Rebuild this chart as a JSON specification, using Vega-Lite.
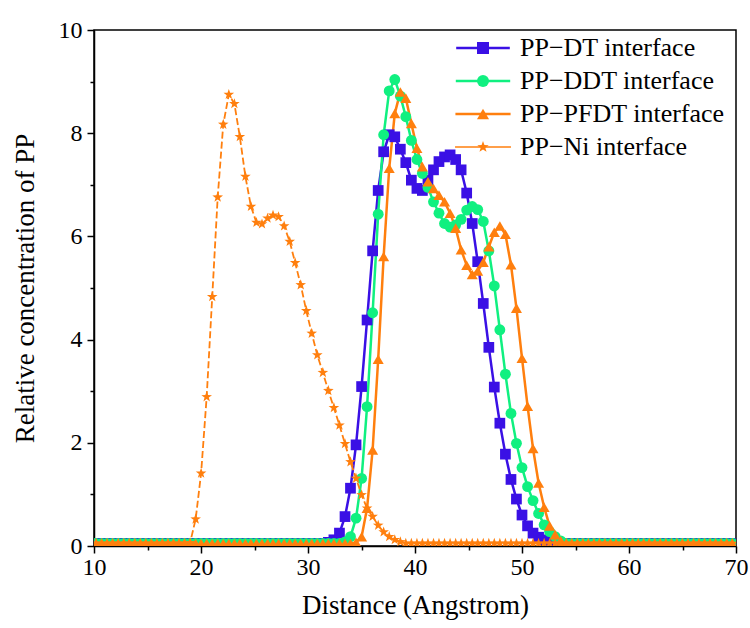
{
"$schema": "https://vega.github.io/schema/vega-lite/v6.json",
"width": 642, "height": 516,
"autosize": {"type": "none"},
"padding": {"left": 94, "top": 30, "right": 14, "bottom": 82},
"background": "white",
"config": {"view": {"stroke": "black", "strokeWidth": 1.5}, "font": "Liberation Serif"},
"data": {"values": [
{"s":"DT","x":10.19,"y":0.05},{"s":"DT","x":10.71,"y":0.05},{"s":"DT","x":11.22,"y":0.05},{"s":"DT","x":11.74,"y":0.05},{"s":"DT","x":12.26,"y":0.05},{"s":"DT","x":12.78,"y":0.05},{"s":"DT","x":13.29,"y":0.05},{"s":"DT","x":13.81,"y":0.05},{"s":"DT","x":14.33,"y":0.05},{"s":"DT","x":14.84,"y":0.05},{"s":"DT","x":15.36,"y":0.05},{"s":"DT","x":15.88,"y":0.05},{"s":"DT","x":16.39,"y":0.05},{"s":"DT","x":16.91,"y":0.05},{"s":"DT","x":17.43,"y":0.05},{"s":"DT","x":17.95,"y":0.05},{"s":"DT","x":18.46,"y":0.05},{"s":"DT","x":18.98,"y":0.05},{"s":"DT","x":19.50,"y":0.05},{"s":"DT","x":20.01,"y":0.05},{"s":"DT","x":20.53,"y":0.05},{"s":"DT","x":21.05,"y":0.05},{"s":"DT","x":21.56,"y":0.05},{"s":"DT","x":22.08,"y":0.05},{"s":"DT","x":22.60,"y":0.05},{"s":"DT","x":23.12,"y":0.05},{"s":"DT","x":23.63,"y":0.05},{"s":"DT","x":24.15,"y":0.05},{"s":"DT","x":24.67,"y":0.05},{"s":"DT","x":25.18,"y":0.05},{"s":"DT","x":25.70,"y":0.05},{"s":"DT","x":26.22,"y":0.05},{"s":"DT","x":26.73,"y":0.05},{"s":"DT","x":27.25,"y":0.05},{"s":"DT","x":27.77,"y":0.05},{"s":"DT","x":28.29,"y":0.05},{"s":"DT","x":28.80,"y":0.05},{"s":"DT","x":29.32,"y":0.05},{"s":"DT","x":29.84,"y":0.05},{"s":"DT","x":30.35,"y":0.05},{"s":"DT","x":30.87,"y":0.05},{"s":"DT","x":31.39,"y":0.05},{"s":"DT","x":31.90,"y":0.07},{"s":"DT","x":32.42,"y":0.12},{"s":"DT","x":32.94,"y":0.25},{"s":"DT","x":33.46,"y":0.57},{"s":"DT","x":33.97,"y":1.12},{"s":"DT","x":34.49,"y":1.96},{"s":"DT","x":35.01,"y":3.09},{"s":"DT","x":35.52,"y":4.38},{"s":"DT","x":36.04,"y":5.72},{"s":"DT","x":36.56,"y":6.89},{"s":"DT","x":37.07,"y":7.64},{"s":"DT","x":37.59,"y":7.97},{"s":"DT","x":38.11,"y":7.93},{"s":"DT","x":38.63,"y":7.69},{"s":"DT","x":39.14,"y":7.43},{"s":"DT","x":39.66,"y":7.09},{"s":"DT","x":40.18,"y":6.93},{"s":"DT","x":40.69,"y":6.89},{"s":"DT","x":41.21,"y":7.09},{"s":"DT","x":41.73,"y":7.29},{"s":"DT","x":42.24,"y":7.45},{"s":"DT","x":42.76,"y":7.54},{"s":"DT","x":43.28,"y":7.58},{"s":"DT","x":43.80,"y":7.49},{"s":"DT","x":44.31,"y":7.29},{"s":"DT","x":44.83,"y":6.84},{"s":"DT","x":45.35,"y":6.25},{"s":"DT","x":45.86,"y":5.51},{"s":"DT","x":46.38,"y":4.70},{"s":"DT","x":46.90,"y":3.85},{"s":"DT","x":47.41,"y":3.08},{"s":"DT","x":47.93,"y":2.38},{"s":"DT","x":48.45,"y":1.78},{"s":"DT","x":48.97,"y":1.29},{"s":"DT","x":49.48,"y":0.91},{"s":"DT","x":50.00,"y":0.60},{"s":"DT","x":50.52,"y":0.39},{"s":"DT","x":51.03,"y":0.25},{"s":"DT","x":51.55,"y":0.17},{"s":"DT","x":52.07,"y":0.12},{"s":"DT","x":52.58,"y":0.08},{"s":"DT","x":53.10,"y":0.05},{"s":"DT","x":53.62,"y":0.05},{"s":"DT","x":54.14,"y":0.05},{"s":"DT","x":54.65,"y":0.05},{"s":"DT","x":55.17,"y":0.05},{"s":"DT","x":55.69,"y":0.05},{"s":"DT","x":56.20,"y":0.05},{"s":"DT","x":56.72,"y":0.05},{"s":"DT","x":57.24,"y":0.05},{"s":"DT","x":57.75,"y":0.05},{"s":"DT","x":58.27,"y":0.05},{"s":"DT","x":58.79,"y":0.05},{"s":"DT","x":59.31,"y":0.05},{"s":"DT","x":59.82,"y":0.05},{"s":"DT","x":60.34,"y":0.05},{"s":"DT","x":60.86,"y":0.05},{"s":"DT","x":61.37,"y":0.05},{"s":"DT","x":61.89,"y":0.05},{"s":"DT","x":62.41,"y":0.05},{"s":"DT","x":62.92,"y":0.05},{"s":"DT","x":63.44,"y":0.05},{"s":"DT","x":63.96,"y":0.05},{"s":"DT","x":64.48,"y":0.05},{"s":"DT","x":64.99,"y":0.05},{"s":"DT","x":65.51,"y":0.05},{"s":"DT","x":66.03,"y":0.05},{"s":"DT","x":66.54,"y":0.05},{"s":"DT","x":67.06,"y":0.05},{"s":"DT","x":67.58,"y":0.05},{"s":"DT","x":68.09,"y":0.05},{"s":"DT","x":68.61,"y":0.05},{"s":"DT","x":69.13,"y":0.05},{"s":"DT","x":69.65,"y":0.05},
{"s":"DDT","x":10.19,"y":0.05},{"s":"DDT","x":10.71,"y":0.05},{"s":"DDT","x":11.22,"y":0.05},{"s":"DDT","x":11.74,"y":0.05},{"s":"DDT","x":12.26,"y":0.05},{"s":"DDT","x":12.78,"y":0.05},{"s":"DDT","x":13.29,"y":0.05},{"s":"DDT","x":13.81,"y":0.05},{"s":"DDT","x":14.33,"y":0.05},{"s":"DDT","x":14.84,"y":0.05},{"s":"DDT","x":15.36,"y":0.05},{"s":"DDT","x":15.88,"y":0.05},{"s":"DDT","x":16.39,"y":0.05},{"s":"DDT","x":16.91,"y":0.05},{"s":"DDT","x":17.43,"y":0.05},{"s":"DDT","x":17.95,"y":0.05},{"s":"DDT","x":18.46,"y":0.05},{"s":"DDT","x":18.98,"y":0.05},{"s":"DDT","x":19.50,"y":0.05},{"s":"DDT","x":20.01,"y":0.05},{"s":"DDT","x":20.53,"y":0.05},{"s":"DDT","x":21.05,"y":0.05},{"s":"DDT","x":21.56,"y":0.05},{"s":"DDT","x":22.08,"y":0.05},{"s":"DDT","x":22.60,"y":0.05},{"s":"DDT","x":23.12,"y":0.05},{"s":"DDT","x":23.63,"y":0.05},{"s":"DDT","x":24.15,"y":0.05},{"s":"DDT","x":24.67,"y":0.05},{"s":"DDT","x":25.18,"y":0.05},{"s":"DDT","x":25.70,"y":0.05},{"s":"DDT","x":26.22,"y":0.05},{"s":"DDT","x":26.73,"y":0.05},{"s":"DDT","x":27.25,"y":0.05},{"s":"DDT","x":27.77,"y":0.05},{"s":"DDT","x":28.29,"y":0.05},{"s":"DDT","x":28.80,"y":0.05},{"s":"DDT","x":29.32,"y":0.05},{"s":"DDT","x":29.84,"y":0.05},{"s":"DDT","x":30.35,"y":0.05},{"s":"DDT","x":30.87,"y":0.05},{"s":"DDT","x":31.39,"y":0.05},{"s":"DDT","x":31.90,"y":0.05},{"s":"DDT","x":32.42,"y":0.05},{"s":"DDT","x":32.94,"y":0.05},{"s":"DDT","x":33.46,"y":0.08},{"s":"DDT","x":33.97,"y":0.18},{"s":"DDT","x":34.49,"y":0.54},{"s":"DDT","x":35.01,"y":1.31},{"s":"DDT","x":35.52,"y":2.70},{"s":"DDT","x":36.04,"y":4.52},{"s":"DDT","x":36.56,"y":6.43},{"s":"DDT","x":37.07,"y":7.97},{"s":"DDT","x":37.59,"y":8.82},{"s":"DDT","x":38.11,"y":9.04},{"s":"DDT","x":38.63,"y":8.72},{"s":"DDT","x":39.14,"y":8.32},{"s":"DDT","x":39.66,"y":7.86},{"s":"DDT","x":40.18,"y":7.49},{"s":"DDT","x":40.69,"y":7.22},{"s":"DDT","x":41.21,"y":6.95},{"s":"DDT","x":41.73,"y":6.67},{"s":"DDT","x":42.24,"y":6.45},{"s":"DDT","x":42.76,"y":6.25},{"s":"DDT","x":43.28,"y":6.18},{"s":"DDT","x":43.80,"y":6.22},{"s":"DDT","x":44.31,"y":6.33},{"s":"DDT","x":44.83,"y":6.51},{"s":"DDT","x":45.35,"y":6.58},{"s":"DDT","x":45.86,"y":6.52},{"s":"DDT","x":46.38,"y":6.29},{"s":"DDT","x":46.90,"y":5.72},{"s":"DDT","x":47.41,"y":5.04},{"s":"DDT","x":47.93,"y":4.19},{"s":"DDT","x":48.45,"y":3.33},{"s":"DDT","x":48.97,"y":2.57},{"s":"DDT","x":49.48,"y":1.99},{"s":"DDT","x":50.00,"y":1.52},{"s":"DDT","x":50.52,"y":1.15},{"s":"DDT","x":51.03,"y":0.88},{"s":"DDT","x":51.55,"y":0.63},{"s":"DDT","x":52.07,"y":0.41},{"s":"DDT","x":52.58,"y":0.28},{"s":"DDT","x":53.10,"y":0.18},{"s":"DDT","x":53.62,"y":0.10},{"s":"DDT","x":54.14,"y":0.05},{"s":"DDT","x":54.65,"y":0.05},{"s":"DDT","x":55.17,"y":0.05},{"s":"DDT","x":55.69,"y":0.05},{"s":"DDT","x":56.20,"y":0.05},{"s":"DDT","x":56.72,"y":0.05},{"s":"DDT","x":57.24,"y":0.05},{"s":"DDT","x":57.75,"y":0.05},{"s":"DDT","x":58.27,"y":0.05},{"s":"DDT","x":58.79,"y":0.05},{"s":"DDT","x":59.31,"y":0.05},{"s":"DDT","x":59.82,"y":0.05},{"s":"DDT","x":60.34,"y":0.05},{"s":"DDT","x":60.86,"y":0.05},{"s":"DDT","x":61.37,"y":0.05},{"s":"DDT","x":61.89,"y":0.05},{"s":"DDT","x":62.41,"y":0.05},{"s":"DDT","x":62.92,"y":0.05},{"s":"DDT","x":63.44,"y":0.05},{"s":"DDT","x":63.96,"y":0.05},{"s":"DDT","x":64.48,"y":0.05},{"s":"DDT","x":64.99,"y":0.05},{"s":"DDT","x":65.51,"y":0.05},{"s":"DDT","x":66.03,"y":0.05},{"s":"DDT","x":66.54,"y":0.05},{"s":"DDT","x":67.06,"y":0.05},{"s":"DDT","x":67.58,"y":0.05},{"s":"DDT","x":68.09,"y":0.05},{"s":"DDT","x":68.61,"y":0.05},{"s":"DDT","x":69.13,"y":0.05},{"s":"DDT","x":69.65,"y":0.05},
{"s":"PFDT","x":10.19,"y":0.05},{"s":"PFDT","x":10.71,"y":0.05},{"s":"PFDT","x":11.22,"y":0.05},{"s":"PFDT","x":11.74,"y":0.05},{"s":"PFDT","x":12.26,"y":0.05},{"s":"PFDT","x":12.78,"y":0.05},{"s":"PFDT","x":13.29,"y":0.05},{"s":"PFDT","x":13.81,"y":0.05},{"s":"PFDT","x":14.33,"y":0.05},{"s":"PFDT","x":14.84,"y":0.05},{"s":"PFDT","x":15.36,"y":0.05},{"s":"PFDT","x":15.88,"y":0.05},{"s":"PFDT","x":16.39,"y":0.05},{"s":"PFDT","x":16.91,"y":0.05},{"s":"PFDT","x":17.43,"y":0.05},{"s":"PFDT","x":17.95,"y":0.05},{"s":"PFDT","x":18.46,"y":0.05},{"s":"PFDT","x":18.98,"y":0.05},{"s":"PFDT","x":19.50,"y":0.05},{"s":"PFDT","x":20.01,"y":0.05},{"s":"PFDT","x":20.53,"y":0.05},{"s":"PFDT","x":21.05,"y":0.05},{"s":"PFDT","x":21.56,"y":0.05},{"s":"PFDT","x":22.08,"y":0.05},{"s":"PFDT","x":22.60,"y":0.05},{"s":"PFDT","x":23.12,"y":0.05},{"s":"PFDT","x":23.63,"y":0.05},{"s":"PFDT","x":24.15,"y":0.05},{"s":"PFDT","x":24.67,"y":0.05},{"s":"PFDT","x":25.18,"y":0.05},{"s":"PFDT","x":25.70,"y":0.05},{"s":"PFDT","x":26.22,"y":0.05},{"s":"PFDT","x":26.73,"y":0.05},{"s":"PFDT","x":27.25,"y":0.05},{"s":"PFDT","x":27.77,"y":0.05},{"s":"PFDT","x":28.29,"y":0.05},{"s":"PFDT","x":28.80,"y":0.05},{"s":"PFDT","x":29.32,"y":0.05},{"s":"PFDT","x":29.84,"y":0.05},{"s":"PFDT","x":30.35,"y":0.05},{"s":"PFDT","x":30.87,"y":0.05},{"s":"PFDT","x":31.39,"y":0.05},{"s":"PFDT","x":31.90,"y":0.05},{"s":"PFDT","x":32.42,"y":0.05},{"s":"PFDT","x":32.94,"y":0.05},{"s":"PFDT","x":33.46,"y":0.05},{"s":"PFDT","x":33.97,"y":0.05},{"s":"PFDT","x":34.49,"y":0.07},{"s":"PFDT","x":35.01,"y":0.18},{"s":"PFDT","x":35.52,"y":0.73},{"s":"PFDT","x":36.04,"y":1.86},{"s":"PFDT","x":36.56,"y":3.62},{"s":"PFDT","x":37.07,"y":5.61},{"s":"PFDT","x":37.59,"y":7.32},{"s":"PFDT","x":38.11,"y":8.38},{"s":"PFDT","x":38.63,"y":8.80},{"s":"PFDT","x":39.14,"y":8.68},{"s":"PFDT","x":39.66,"y":8.19},{"s":"PFDT","x":40.18,"y":7.71},{"s":"PFDT","x":40.69,"y":7.35},{"s":"PFDT","x":41.21,"y":7.06},{"s":"PFDT","x":41.73,"y":6.93},{"s":"PFDT","x":42.24,"y":6.80},{"s":"PFDT","x":42.76,"y":6.67},{"s":"PFDT","x":43.28,"y":6.45},{"s":"PFDT","x":43.80,"y":6.16},{"s":"PFDT","x":44.31,"y":5.74},{"s":"PFDT","x":44.83,"y":5.44},{"s":"PFDT","x":45.35,"y":5.26},{"s":"PFDT","x":45.86,"y":5.33},{"s":"PFDT","x":46.38,"y":5.50},{"s":"PFDT","x":46.90,"y":5.80},{"s":"PFDT","x":47.41,"y":6.08},{"s":"PFDT","x":47.93,"y":6.20},{"s":"PFDT","x":48.45,"y":6.04},{"s":"PFDT","x":48.97,"y":5.45},{"s":"PFDT","x":49.48,"y":4.61},{"s":"PFDT","x":50.00,"y":3.64},{"s":"PFDT","x":50.52,"y":2.71},{"s":"PFDT","x":51.03,"y":1.89},{"s":"PFDT","x":51.55,"y":1.22},{"s":"PFDT","x":52.07,"y":0.75},{"s":"PFDT","x":52.58,"y":0.39},{"s":"PFDT","x":53.10,"y":0.22},{"s":"PFDT","x":53.62,"y":0.10},{"s":"PFDT","x":54.14,"y":0.05},{"s":"PFDT","x":54.65,"y":0.05},{"s":"PFDT","x":55.17,"y":0.05},{"s":"PFDT","x":55.69,"y":0.05},{"s":"PFDT","x":56.20,"y":0.05},{"s":"PFDT","x":56.72,"y":0.05},{"s":"PFDT","x":57.24,"y":0.05},{"s":"PFDT","x":57.75,"y":0.05},{"s":"PFDT","x":58.27,"y":0.05},{"s":"PFDT","x":58.79,"y":0.05},{"s":"PFDT","x":59.31,"y":0.05},{"s":"PFDT","x":59.82,"y":0.05},{"s":"PFDT","x":60.34,"y":0.05},{"s":"PFDT","x":60.86,"y":0.05},{"s":"PFDT","x":61.37,"y":0.05},{"s":"PFDT","x":61.89,"y":0.05},{"s":"PFDT","x":62.41,"y":0.05},{"s":"PFDT","x":62.92,"y":0.05},{"s":"PFDT","x":63.44,"y":0.05},{"s":"PFDT","x":63.96,"y":0.05},{"s":"PFDT","x":64.48,"y":0.05},{"s":"PFDT","x":64.99,"y":0.05},{"s":"PFDT","x":65.51,"y":0.05},{"s":"PFDT","x":66.03,"y":0.05},{"s":"PFDT","x":66.54,"y":0.05},{"s":"PFDT","x":67.06,"y":0.05},{"s":"PFDT","x":67.58,"y":0.05},{"s":"PFDT","x":68.09,"y":0.05},{"s":"PFDT","x":68.61,"y":0.05},{"s":"PFDT","x":69.13,"y":0.05},{"s":"PFDT","x":69.65,"y":0.05},
{"s":"Ni","x":10.19,"y":0.05},{"s":"Ni","x":10.71,"y":0.05},{"s":"Ni","x":11.22,"y":0.05},{"s":"Ni","x":11.74,"y":0.05},{"s":"Ni","x":12.26,"y":0.05},{"s":"Ni","x":12.78,"y":0.05},{"s":"Ni","x":13.29,"y":0.05},{"s":"Ni","x":13.81,"y":0.05},{"s":"Ni","x":14.33,"y":0.05},{"s":"Ni","x":14.84,"y":0.05},{"s":"Ni","x":15.36,"y":0.05},{"s":"Ni","x":15.88,"y":0.05},{"s":"Ni","x":16.39,"y":0.05},{"s":"Ni","x":16.91,"y":0.05},{"s":"Ni","x":17.43,"y":0.05},{"s":"Ni","x":17.95,"y":0.05},{"s":"Ni","x":18.46,"y":0.05},{"s":"Ni","x":18.98,"y":0.06},{"s":"Ni","x":19.50,"y":0.52},{"s":"Ni","x":20.01,"y":1.41},{"s":"Ni","x":20.53,"y":2.89},{"s":"Ni","x":21.05,"y":4.83},{"s":"Ni","x":21.56,"y":6.76},{"s":"Ni","x":22.08,"y":8.17},{"s":"Ni","x":22.60,"y":8.75},{"s":"Ni","x":23.12,"y":8.57},{"s":"Ni","x":23.63,"y":7.93},{"s":"Ni","x":24.15,"y":7.16},{"s":"Ni","x":24.67,"y":6.58},{"s":"Ni","x":25.18,"y":6.27},{"s":"Ni","x":25.70,"y":6.24},{"s":"Ni","x":26.22,"y":6.35},{"s":"Ni","x":26.73,"y":6.41},{"s":"Ni","x":27.25,"y":6.38},{"s":"Ni","x":27.77,"y":6.20},{"s":"Ni","x":28.29,"y":5.90},{"s":"Ni","x":28.80,"y":5.49},{"s":"Ni","x":29.32,"y":5.06},{"s":"Ni","x":29.84,"y":4.56},{"s":"Ni","x":30.35,"y":4.12},{"s":"Ni","x":30.87,"y":3.70},{"s":"Ni","x":31.39,"y":3.36},{"s":"Ni","x":31.90,"y":3.01},{"s":"Ni","x":32.42,"y":2.68},{"s":"Ni","x":32.94,"y":2.34},{"s":"Ni","x":33.46,"y":1.98},{"s":"Ni","x":33.97,"y":1.63},{"s":"Ni","x":34.49,"y":1.31},{"s":"Ni","x":35.01,"y":0.99},{"s":"Ni","x":35.52,"y":0.73},{"s":"Ni","x":36.04,"y":0.57},{"s":"Ni","x":36.56,"y":0.40},{"s":"Ni","x":37.07,"y":0.27},{"s":"Ni","x":37.59,"y":0.18},{"s":"Ni","x":38.11,"y":0.12},{"s":"Ni","x":38.63,"y":0.08},{"s":"Ni","x":39.14,"y":0.05},{"s":"Ni","x":39.66,"y":0.05},{"s":"Ni","x":40.18,"y":0.05},{"s":"Ni","x":40.69,"y":0.05},{"s":"Ni","x":41.21,"y":0.05},{"s":"Ni","x":41.73,"y":0.05},{"s":"Ni","x":42.24,"y":0.05},{"s":"Ni","x":42.76,"y":0.05},{"s":"Ni","x":43.28,"y":0.05},{"s":"Ni","x":43.80,"y":0.05},{"s":"Ni","x":44.31,"y":0.05},{"s":"Ni","x":44.83,"y":0.05},{"s":"Ni","x":45.35,"y":0.05},{"s":"Ni","x":45.86,"y":0.05},{"s":"Ni","x":46.38,"y":0.05},{"s":"Ni","x":46.90,"y":0.05},{"s":"Ni","x":47.41,"y":0.05},{"s":"Ni","x":47.93,"y":0.05},{"s":"Ni","x":48.45,"y":0.05},{"s":"Ni","x":48.97,"y":0.05},{"s":"Ni","x":49.48,"y":0.05},{"s":"Ni","x":50.00,"y":0.05},{"s":"Ni","x":50.52,"y":0.05},{"s":"Ni","x":51.03,"y":0.05},{"s":"Ni","x":51.55,"y":0.05},{"s":"Ni","x":52.07,"y":0.05},{"s":"Ni","x":52.58,"y":0.05},{"s":"Ni","x":53.10,"y":0.05},{"s":"Ni","x":53.62,"y":0.05},{"s":"Ni","x":54.14,"y":0.05},{"s":"Ni","x":54.65,"y":0.05},{"s":"Ni","x":55.17,"y":0.05},{"s":"Ni","x":55.69,"y":0.05},{"s":"Ni","x":56.20,"y":0.05},{"s":"Ni","x":56.72,"y":0.05},{"s":"Ni","x":57.24,"y":0.05},{"s":"Ni","x":57.75,"y":0.05},{"s":"Ni","x":58.27,"y":0.05},{"s":"Ni","x":58.79,"y":0.05},{"s":"Ni","x":59.31,"y":0.05},{"s":"Ni","x":59.82,"y":0.05},{"s":"Ni","x":60.34,"y":0.05},{"s":"Ni","x":60.86,"y":0.05},{"s":"Ni","x":61.37,"y":0.05},{"s":"Ni","x":61.89,"y":0.05},{"s":"Ni","x":62.41,"y":0.05},{"s":"Ni","x":62.92,"y":0.05},{"s":"Ni","x":63.44,"y":0.05},{"s":"Ni","x":63.96,"y":0.05},{"s":"Ni","x":64.48,"y":0.05},{"s":"Ni","x":64.99,"y":0.05},{"s":"Ni","x":65.51,"y":0.05},{"s":"Ni","x":66.03,"y":0.05},{"s":"Ni","x":66.54,"y":0.05},{"s":"Ni","x":67.06,"y":0.05},{"s":"Ni","x":67.58,"y":0.05},{"s":"Ni","x":68.09,"y":0.05},{"s":"Ni","x":68.61,"y":0.05},{"s":"Ni","x":69.13,"y":0.05},{"s":"Ni","x":69.65,"y":0.05}
]},
"encoding": {
  "x": {"field": "x", "type": "quantitative", "scale": {"domain": [10, 70], "nice": false, "zero": false},
    "axis": {"orient": "bottom", "values": [10,15,20,25,30,35,40,45,50,55,60,65,70],
      "labelExpr": "datum.value % 10 == 0 ? datum.label : ''",
      "tickSize": {"condition": {"test": "datum.value % 10 == 0", "value": 7}, "value": 4},
      "labelFlush": false, "labelOverlap": false, "grid": false,
      "domainColor": "black", "domainWidth": 1.5, "tickColor": "black", "tickWidth": 1.5,
      "labelFont": "Liberation Serif", "labelFontSize": 24, "labelColor": "black", "labelPadding": 2,
      "title": "Distance (Angstrom)", "titleFont": "Liberation Serif", "titleFontSize": 27, "titleFontWeight": "normal", "titleColor": "black", "titlePadding": 13}},
  "y": {"field": "y", "type": "quantitative", "scale": {"domain": [0, 10], "nice": false},
    "axis": {"orient": "left", "values": [0,1,2,3,4,5,6,7,8,9,10],
      "labelExpr": "datum.value % 2 == 0 ? datum.label : ''",
      "tickSize": {"condition": {"test": "datum.value % 2 == 0", "value": 7}, "value": 4},
      "labelOverlap": false, "labelFlush": false, "grid": false,
      "domainColor": "black", "domainWidth": 1.5, "tickColor": "black", "tickWidth": 1.5,
      "labelFont": "Liberation Serif", "labelFontSize": 24, "labelColor": "black", "labelPadding": 5,
      "title": "Relative concentration of PP", "titleFont": "Liberation Serif", "titleFontSize": 27, "titleFontWeight": "normal", "titleColor": "black", "titlePadding": 19}}
},
"layer": [
  {"transform": [{"filter": "datum.s != 'Ni'"}],
   "mark": {"type": "line", "clip": true, "strokeWidth": 2.5},
   "encoding": {
     "stroke": {"field": "s", "type": "nominal",
       "scale": {"domain": ["DT", "DDT", "PFDT", "Ni"], "range": ["#3a10e5", "#10f080", "#ff7f0e", "#ff7f0e"]},
       "legend": {"orient": "none", "legendX": 376, "legendY": 5, "title": null, "padding": 0,
         "symbolType": "M-5,0H5", "symbolSize": 144, "symbolStrokeWidth": 2.5,
         "labelExpr": "datum.label == 'DT' ? 'PP−DT interface' : datum.label == 'DDT' ? 'PP−DDT interface' : datum.label == 'PFDT' ? 'PP−PFDT interface' : 'PP−Ni interface'",
         "labelFont": "Liberation Serif", "labelFontSize": 26, "labelColor": "black", "labelOffset": 24, "rowPadding": 7, "labelLimit": 400,
         "encode": {"symbols": {"update": {"strokeWidth": {"signal": "datum.value == 'Ni' ? 1.6 : 2.5"}}}}}}
   }},
  {"transform": [{"filter": "datum.s == 'Ni'"}],
   "mark": {"type": "line", "clip": true, "strokeWidth": 1.8, "strokeDash": [7, 3]},
   "encoding": {
     "stroke": {"field": "s", "type": "nominal"}
   }},
  {"mark": {"type": "point", "filled": true, "opacity": 1, "strokeWidth": 0, "clip": true},
   "encoding": {
     "fill": {"field": "s", "type": "nominal",
       "scale": {"domain": ["DT", "DDT", "PFDT", "Ni", "none"], "range": ["#3a10e5", "#10f080", "#ff7f0e", "#ff7f0e", "#ffffff"]},
       "legend": {"orient": "none", "legendX": 376, "legendY": 5, "title": null, "padding": 0,
         "values": ["DT", "DDT", "PFDT", "Ni"],
         "symbolSize": 144, "symbolStrokeWidth": 0,
         "labelExpr": "' '",
         "labelFont": "Liberation Serif", "labelFontSize": 26, "labelColor": "black", "labelOffset": 24, "rowPadding": 7, "labelLimit": 400}},
     "shape": {"field": "s", "type": "nominal",
       "scale": {"domain": ["DT", "DDT", "PFDT", "Ni", "none"], "range": ["square", "circle", "triangle-up", "M0,-1L0.235,-0.324L0.951,-0.309L0.38,0.124L0.588,0.809L0,0.4L-0.588,0.809L-0.38,0.124L-0.951,-0.309L-0.235,-0.324Z", "circle"]}},
     "size": {"field": "s", "type": "nominal",
       "scale": {"domain": ["DT", "DDT", "PFDT", "Ni"], "range": [115, 125, 175, 160]}, "legend": null}
   }}
]
}
